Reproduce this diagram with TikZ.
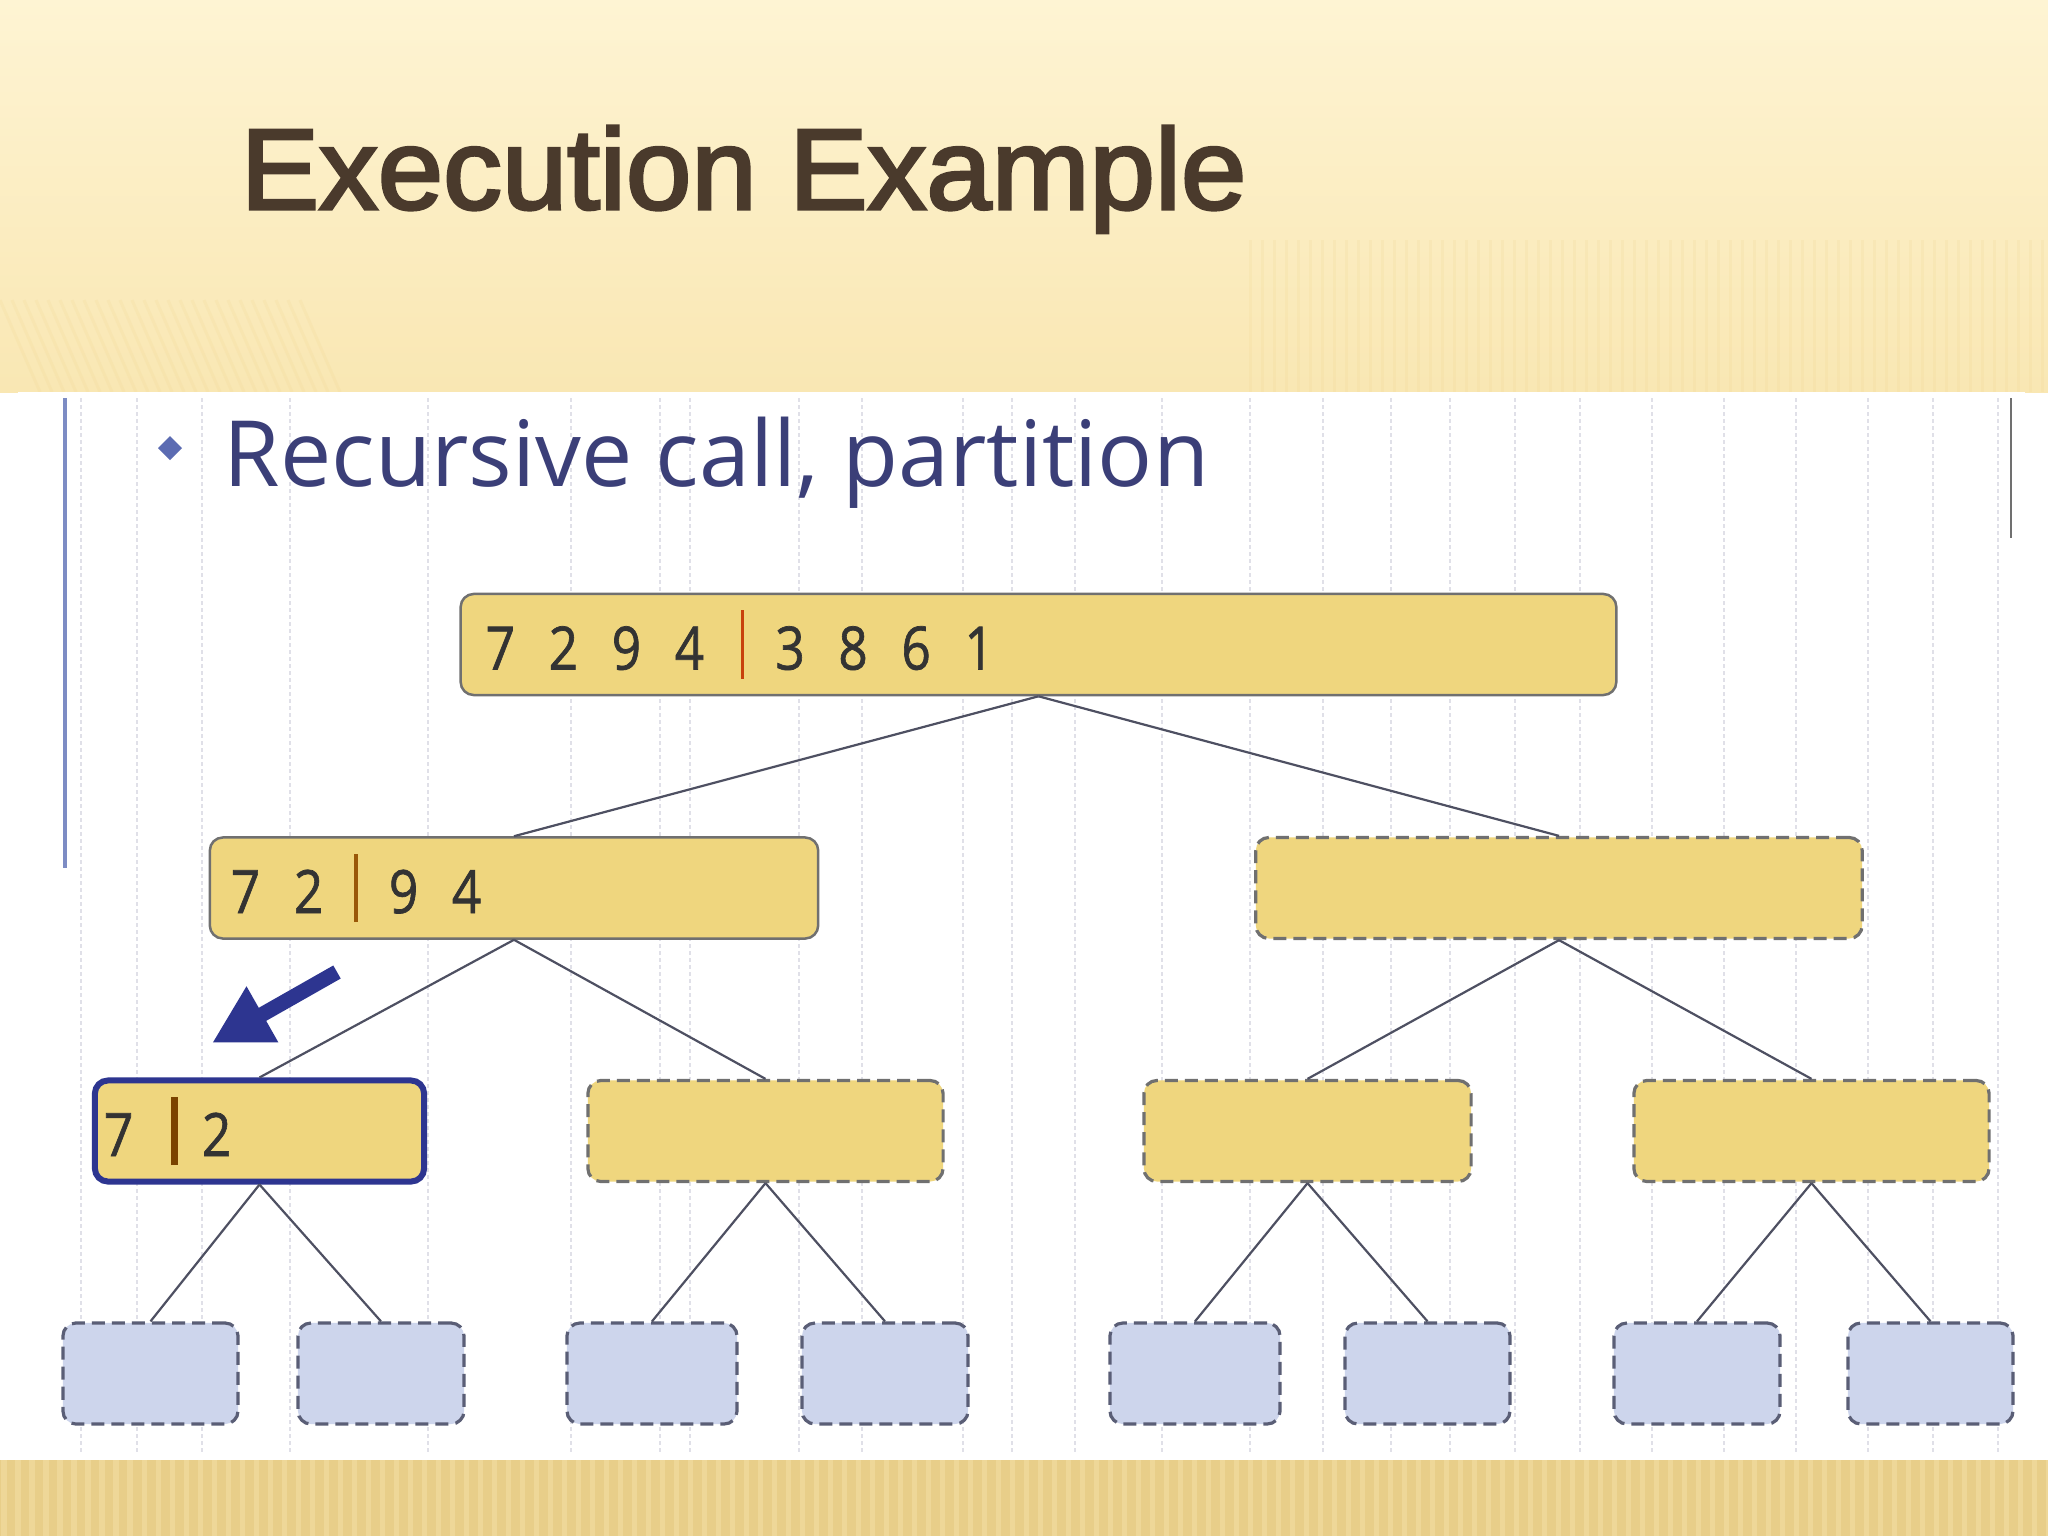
\documentclass[tikz,border=0pt]{standalone}
\usepackage{fontspec}
\usepackage{graphicx}
\usepackage{tikz}
\usetikzlibrary{arrows.meta}
\setmainfont{Open Sans}
\newfontfamily\titlefont[FakeBold=2.6]{Liberation Sans}
\newfontfamily\digitfont[FakeBold=1.2]{Open Sans}
\definecolor{slidetop}{HTML}{FEF4D3}
\definecolor{slidelow}{HTML}{F9E7B3}
\definecolor{stripe}{HTML}{EFD58E}
\definecolor{band}{HTML}{E8CE89}
\definecolor{bandlight}{HTML}{F3DEA3}
\definecolor{titlebrown}{HTML}{4A3A2C}
\definecolor{calltext}{HTML}{3B3F78}
\definecolor{bulletblue}{HTML}{5B6BB2}
\definecolor{railblue}{HTML}{7D8CC4}
\definecolor{gridgray}{HTML}{E0E0E8}
\definecolor{boxyellow}{HTML}{EFD67E}
\definecolor{boxline}{HTML}{707070}
\definecolor{leafblue}{HTML}{CDD5EC}
\definecolor{leafline}{HTML}{5A5E76}
\definecolor{edgegray}{HTML}{4E5062}
\definecolor{navy}{HTML}{2D3590}
\definecolor{pivotred}{HTML}{C8410C}
\definecolor{pivotbrown}{HTML}{9A5808}
\definecolor{pivotdark}{HTML}{7A4300}
\newcommand\dig[1]{\makebox[0.63cm][l]{\scalebox{0.86}[1]{#1}}}
\newcommand\pivot[4]{\hspace{#3}\textcolor{#1}{\rule[-0.09cm]{#2}{0.68cm}}\hspace{#4}}

\begin{document}
\begin{tikzpicture}[x=0.01cm,y=-0.01cm,
box/.style={draw=boxline,line width=0.025cm,fill=boxyellow,rounded corners=0.13cm,minimum height=1.01cm,inner ysep=0.1cm,align=left,text=black!80,font=\digitfont\fontsize{17}{20}\selectfont},
todo/.style={box,dash pattern=on 0.13cm off 0.07cm,line width=0.032cm},
leaf/.style={todo,fill=leafblue,draw=leafline,minimum width=1.68cm},
edge/.style={draw=edgegray,line width=0.022cm}]
\useasboundingbox (0,0) rectangle (2048,1536);
\shade[top color=slidetop,bottom color=slidelow] (0,0) rectangle (2048,392);
\foreach \x in {1250,1262,...,2048} \draw[stripe,opacity=.18,line width=0.03cm] (\x,240) -- (\x,392);
\foreach \x in {0,12,...,300} \draw[stripe,opacity=.18,line width=0.03cm] (\x,300) -- (\x+40,392);
\fill[band] (0,1460) rectangle (2048,1536);
\foreach \x in {4,18,...,2048} \draw[bandlight,opacity=.6,line width=0.05cm] (\x,1460) -- (\x,1536);
\fill[white] (18,392) rectangle (2025,1460);
\foreach \x in {81,137,202,290,428,571,660,690,799,862,963,1012,1075,1162,1250,1323,1391,1450,1515,1580,1652,1724,1796,1868,1933,1998} \draw[gridgray,line width=0.015cm,dash pattern=on 0.04cm off 0.03cm] (\x,398) -- (\x,1455);
\draw[railblue,line width=0.03cm] (65,398) -- (65,868);
\draw[boxline,line width=0.025cm] (2011,398) -- (2011,538);
\node[anchor=base west,inner sep=0pt,text=titlebrown,font=\titlefont\fontsize{32.6}{36}\selectfont] (title) at (240,209) {\scalebox{1.025}[1]{Execution Example}};
\fill[bulletblue] (170,436) -- (182,448) -- (170,460) -- (158,448) -- cycle;
\node[anchor=base west,inner sep=0pt,text=calltext,font=\fontsize{26}{30}\selectfont] (call) at (223,486) {Recursive call, partition};
\node[box,text width=11.05cm,inner xsep=0.25cm] (root) at (1038.5,644.5) {\dig7\dig2\dig9\dig4\pivot{pivotred}{0.035cm}{0.03cm}{0.31cm}\dig3\dig8\dig6\dig1};
\node[box,text width=5.66cm,inner xsep=0.21cm] (l) at (514,888) {\dig7\dig2\pivot{pivotbrown}{0.04cm}{-0.03cm}{0.31cm}\dig9\dig4};
\node[box,draw=navy,line width=0.06cm,text width=3.11cm,inner xsep=0.09cm] (ll) at (259.5,1131) {\dig7\pivot{pivotdark}{0.07cm}{0.04cm}{0.24cm}\dig2};
\node[todo,minimum width=6.06cm] (r) at (1559,888) {};
\node[todo,minimum width=3.55cm] (lr) at (765.5,1131) {};
\node[todo,minimum width=3.27cm] (rl) at (1307.5,1131) {};
\node[todo,minimum width=3.55cm] (rr) at (1811.5,1131) {};
\node[leaf,minimum width=1.75cm] (lll) at (150.5,1373.5) {};
\node[leaf,minimum width=1.66cm] (llr) at (381,1373.5) {};
\node[leaf,minimum width=1.70cm] (lrl) at (652,1373.5) {};
\node[leaf,minimum width=1.66cm] (lrr) at (885,1373.5) {};
\node[leaf,minimum width=1.70cm] (rll) at (1195,1373.5) {};
\node[leaf,minimum width=1.65cm] (rlr) at (1427.5,1373.5) {};
\node[leaf,minimum width=1.66cm] (rrl) at (1697,1373.5) {};
\node[leaf,minimum width=1.65cm] (rrr) at (1930.5,1373.5) {};
\draw[edge](root.south)--(l.north);\draw[edge](root.south)--(r.north);
\draw[edge](l.south)--(ll.north);\draw[edge](l.south)--(lr.north);\draw[edge](r.south)--(rl.north);\draw[edge](r.south)--(rr.north);
\draw[edge](ll.south)--(lll.north);\draw[edge](ll.south)--(llr.north);\draw[edge](lr.south)--(lrl.north);\draw[edge](lr.south)--(lrr.north);
\draw[edge](rl.south)--(rll.north);\draw[edge](rl.south)--(rlr.north);\draw[edge](rr.south)--(rrl.north);\draw[edge](rr.south)--(rrr.north);
\coordinate (tail) at (337,972);
\coordinate (tip) at (212,1043);
\draw[navy,line width=0.15cm,-{Triangle[length=0.58cm,width=0.6cm]}] (tail) -- (tip);
\end{tikzpicture}
\end{document}
